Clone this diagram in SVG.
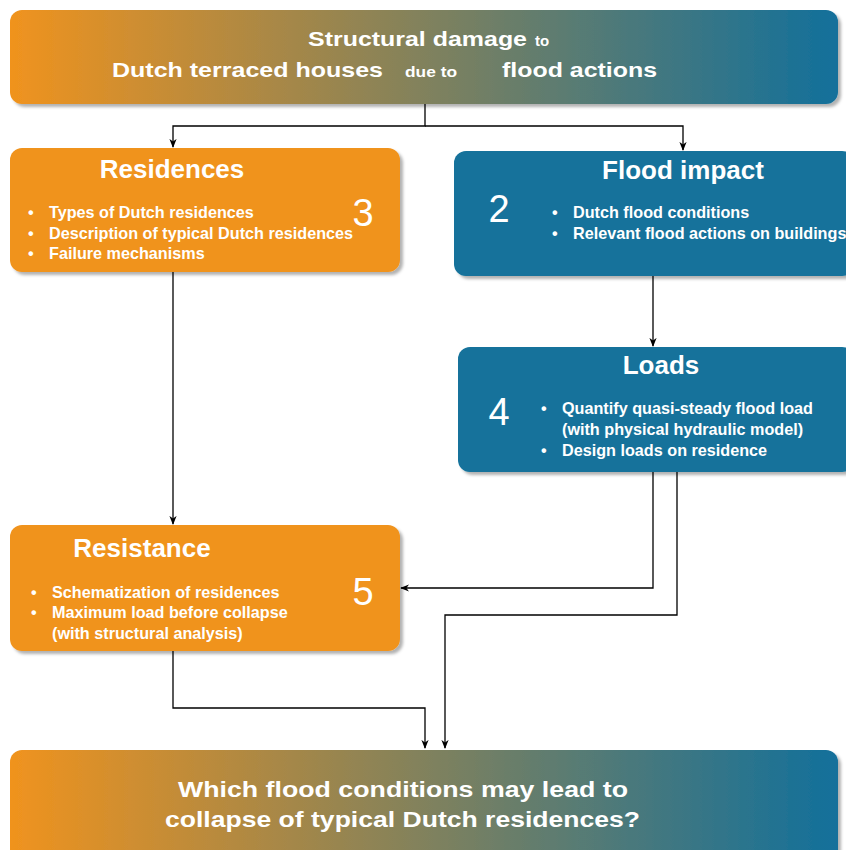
<svg xmlns="http://www.w3.org/2000/svg" width="846" height="850" viewBox="0 0 846 850">
<defs>
<linearGradient id="grad" x1="0" y1="0" x2="1" y2="0">
<stop offset="0" stop-color="#F0931E"/>
<stop offset="1" stop-color="#12709B"/>
</linearGradient>
<filter id="sh" x="-5%" y="-10%" width="115%" height="130%">
<feDropShadow dx="3" dy="3" stdDeviation="1.5" flood-color="#000" flood-opacity="0.3"/>
</filter>
<marker id="arr" viewBox="0 0 10 10" refX="9" refY="5" markerWidth="9" markerHeight="9" markerUnits="userSpaceOnUse" orient="auto">
<path d="M0,1 L10,5 L0,9 L3,5 Z" fill="#000"/>
</marker>
</defs>
<style>
.orange{fill:#F0931E}
.blue{fill:#13729B}
.grad{fill:url(#grad)}
text{font-family:"Liberation Sans",Arial,sans-serif;fill:#fff}
.title{font-size:26px;font-weight:bold}
.q{font-size:22px;font-weight:bold}
.big{font-size:21px;font-weight:bold}
.small{font-size:15px;font-weight:bold}
.num{font-size:38px}
.item{font-size:16.2px;font-weight:bold}
.conn{fill:none;stroke:#000;stroke-width:1.3}
</style>

<g id="top">
<rect x="10" y="10" width="828" height="94" rx="12" class="grad" filter="url(#sh)"/>
<text class="big" x="308" y="46" textLength="219" lengthAdjust="spacingAndGlyphs">Structural damage</text>
<text class="small" x="535" y="46">to</text>
<text class="big" x="112" y="77" textLength="271" lengthAdjust="spacingAndGlyphs">Dutch terraced houses</text>
<text class="small" x="405" y="77" textLength="52" lengthAdjust="spacingAndGlyphs">due to</text>
<text class="big" x="502" y="77" textLength="155" lengthAdjust="spacingAndGlyphs">flood actions</text>
</g>

<g id="residences">
<rect x="10" y="148" width="390" height="124" rx="12" class="orange" filter="url(#sh)"/>
<text class="title" x="172" y="178" text-anchor="middle">Residences</text>
<text class="num" x="363" y="226" text-anchor="middle">3</text>
<text class="item" x="28" y="218">•</text><text class="item" x="49" y="218">Types of Dutch residences</text>
<text class="item" x="28" y="239">•</text><text class="item" x="49" y="239">Description of typical Dutch residences</text>
<text class="item" x="28" y="259">•</text><text class="item" x="49" y="259">Failure mechanisms</text>
</g>

<g id="flood-impact">
<rect x="454" y="151" width="400" height="125" rx="12" class="blue" filter="url(#sh)"/>
<text class="title" x="683" y="179" text-anchor="middle">Flood impact</text>
<text class="num" x="499" y="222" text-anchor="middle">2</text>
<text class="item" x="552" y="218">•</text><text class="item" x="573" y="218">Dutch flood conditions</text>
<text class="item" x="552" y="239">•</text><text class="item" x="573" y="239">Relevant flood actions on buildings</text>
</g>

<g id="loads">
<rect x="458" y="347" width="396" height="125" rx="12" class="blue" filter="url(#sh)"/>
<text class="title" x="661" y="374" text-anchor="middle">Loads</text>
<text class="num" x="499" y="425" text-anchor="middle">4</text>
<text class="item" x="541" y="414">•</text><text class="item" x="562" y="414">Quantify quasi-steady flood load</text>
<text class="item" x="562" y="435">(with physical hydraulic model)</text>
<text class="item" x="541" y="456">•</text><text class="item" x="562" y="456">Design loads on residence</text>
</g>

<g id="resistance">
<rect x="10" y="525" width="390" height="126" rx="12" class="orange" filter="url(#sh)"/>
<text class="title" x="142" y="557" text-anchor="middle">Resistance</text>
<text class="num" x="363" y="605" text-anchor="middle">5</text>
<text class="item" x="31" y="598">•</text><text class="item" x="52" y="598">Schematization of residences</text>
<text class="item" x="31" y="618">•</text><text class="item" x="52" y="618">Maximum load before collapse</text>
<text class="item" x="52" y="639">(with structural analysis)</text>
</g>

<g id="question">
<rect x="10" y="750" width="828" height="112" rx="12" class="grad" filter="url(#sh)"/>
<text class="q" x="178" y="797" textLength="450" lengthAdjust="spacingAndGlyphs">Which flood conditions may lead to</text>
<text class="q" x="165" y="827" textLength="475" lengthAdjust="spacingAndGlyphs">collapse of typical Dutch residences?</text>
</g>

<g id="connectors">
<path class="conn" d="M425,104 V126 H173 V147" marker-end="url(#arr)"/>
<path class="conn" d="M425,126 H683 V150" marker-end="url(#arr)"/>
<path class="conn" d="M653,276 V346" marker-end="url(#arr)"/>
<path class="conn" d="M173,272 V524" marker-end="url(#arr)"/>
<path class="conn" d="M653,472 V588 H401" marker-end="url(#arr)"/>
<path class="conn" d="M677,472 V615 H445 V748" marker-end="url(#arr)"/>
<path class="conn" d="M173,651 V708 H425 V748" marker-end="url(#arr)"/>
</g>
</svg>
